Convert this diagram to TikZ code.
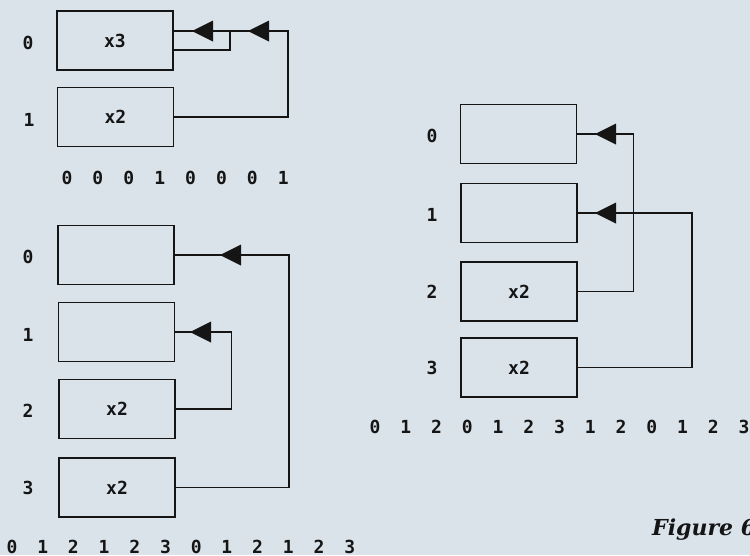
\documentclass[tikz,border=0pt]{standalone}
\usepackage{fontspec}
\newfontfamily\diagfont{DejaVu Sans Mono}
\newfontfamily\capfont{DejaVu Serif}
\definecolor{paper}{HTML}{DAE3EA}
\definecolor{ink}{HTML}{151515}
\begin{document}
\begin{tikzpicture}[x=1pt,y=-1pt,
  box/.style={draw=ink,line width=1.8pt,minimum width=116pt,minimum height=59pt,inner sep=0pt,font=\diagfont\bfseries\fontsize{18}{18}\selectfont,text=ink},
  lbl/.style={font=\diagfont\bfseries\fontsize{18}{18}\selectfont,text=ink,inner sep=0pt},
  wire/.style={draw=ink,line width=1.6pt},
  head/.style={fill=ink}]
\fill[paper] (0,0) rectangle (750,555);
\useasboundingbox (0,0) rectangle (750,555);
\newcommand\arrowhd[2]{\fill[head] (#1,#2) -- ++(21,-10.5) -- ++(0,21) -- cycle;}

% ---------- top-left ----------
\node[box] (t0) at (115,40.5) {x3};
\node[box] (t1) at (115.5,117) {x2};
\node[lbl] (tl0) at (28,43) {0};
\node[lbl] (tl1) at (29,120) {1};
\draw[wire] ([yshift=9.5pt]t0.east) -- ++(114,0) |- (t1.east);
\draw[wire] ([yshift=-9.5pt]t0.east) -- ++(56,0) -- ++(0,-19);
\arrowhd{192}{31}
\arrowhd{248}{31}
\foreach \d [count=\i from 0] in {0,0,0,1,0,0,0,1}
  \node[lbl] (ts\i) at (67+30.9*\i,178) {\d};

% ---------- bottom-left ----------
\node[box] (b0) at (116,255) {};
\node[box] (b1) at (116.5,332) {};
\node[box] (b2) at (117,409) {x2};
\node[box] (b3) at (117,487.5) {x2};
\node[lbl] (bl0) at (28,257) {0};
\node[lbl] (bl1) at (28,335) {1};
\node[lbl] (bl2) at (28,411) {2};
\node[lbl] (bl3) at (28,488) {3};
\draw[wire] (b0.east) -- ++(114,0) |- (b3.east);
\draw[wire] (b1.east) -- ++(56,0) |- (b2.east);
\arrowhd{220}{255}
\arrowhd{190}{332}
\foreach \d [count=\i from 0] in {0,1,2,1,2,3,0,1,2,1,2,3}
  \node[lbl] (bs\i) at (12+30.7*\i,546.5) {\d};

% ---------- right ----------
\node[box] (r0) at (518.5,134) {};
\node[box] (r1) at (519,213) {};
\node[box] (r2) at (519,291.5) {x2};
\node[box] (r3) at (519,367.5) {x2};
\node[lbl] (rl0) at (432,136) {0};
\node[lbl] (rl1) at (432,215) {1};
\node[lbl] (rl2) at (432,292) {2};
\node[lbl] (rl3) at (432,368) {3};
\draw[wire] (r0.east) -- ++(56,0) |- (r2.east);
\draw[wire] (r1.east) -- ++(114,0) |- (r3.east);
\arrowhd{595}{134}
\arrowhd{595}{213}
\foreach \d [count=\i from 0] in {0,1,2,0,1,2,3,1,2,0,1,2,3}
  \node[lbl] (rs\i) at (375+30.75*\i,427) {\d};

% ---------- caption ----------
\node[anchor=base west,inner sep=0pt,text=ink,font=\capfont\bfseries\itshape\fontsize{22}{22}\selectfont] (cap) at (652,535) {Figure 6};
\end{tikzpicture}
\end{document}
